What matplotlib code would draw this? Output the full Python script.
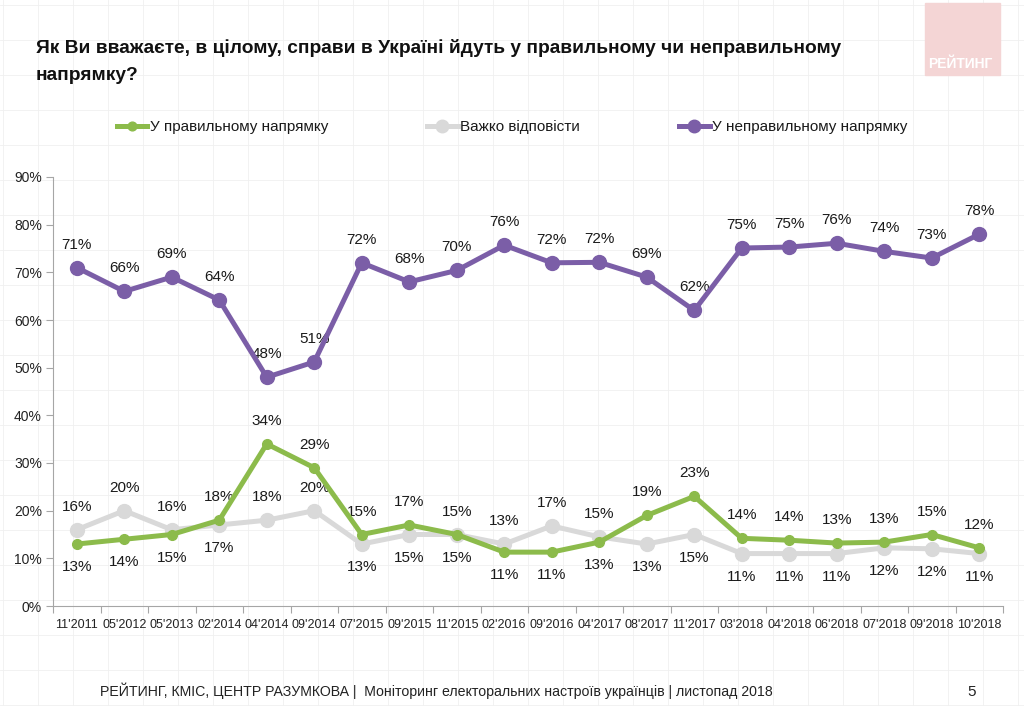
import matplotlib
matplotlib.use("Agg")
import matplotlib.pyplot as plt
import numpy as np

plt.rcParams['font.family'] = ['Liberation Sans', 'DejaVu Sans']

# --- дані ---
periods = ["11'2011", "05'2012", "05'2013", "02'2014", "04'2014", "09'2014", "07'2015",
           "09'2015", "11'2015", "02'2016", "09'2016", "04'2017", "08'2017", "11'2017",
           "03'2018", "04'2018", "06'2018", "07'2018", "09'2018", "10'2018"]
right_dir = [13, 14, 15, 18, 34, 29, 15, 17, 15, 11.3, 11.3, 13.4, 19, 23, 14.2, 13.8, 13.2, 13.4, 15, 12.2]
hard = [16, 20, 16, 17, 18, 20, 13, 15, 15, 13, 16.8, 14.5, 13, 15, 11, 11, 11, 12.2, 12, 11]
wrong_dir = [71, 66, 69, 64.2, 48, 51.2, 72, 68, 70.4, 75.7, 72, 72.1, 69, 62, 75.1, 75.3, 76.1, 74.4, 73, 78]
right_lbl = [13, 14, 15, 18, 34, 29, 15, 17, 15, 11, 11, 13, 19, 23, 14, 14, 13, 13, 15, 12]
hard_lbl = [16, 20, 16, 17, 18, 20, 13, 15, 15, 13, 17, 15, 13, 15, 11, 11, 11, 12, 12, 11]
wrong_lbl = [71, 66, 69, 64, 48, 51, 72, 68, 70, 76, 72, 72, 69, 62, 75, 75, 76, 74, 73, 78]
# де підпис: над точкою (1) чи під (-1)
right_pos = [-1, -1, -1, 1, 1, 1, 1, 1, 1, -1, -1, -1, 1, 1, 1, 1, 1, 1, 1, 1]
hard_pos = [1, 1, 1, -1, 1, 1, -1, -1, -1, 1, 1, 1, -1, -1, -1, -1, -1, -1, -1, -1]

c_green = '#8cbb4b'
c_gray = '#d9d9d9'
c_purple = '#7b5ea7'
txt = '#1a1a1a'

fig = plt.figure(figsize=(10.24, 7.06), dpi=100)

# фон слайду - легка сітка
bg = fig.add_axes([0, 0, 1, 1], zorder=-10)
bg.set_xlim(0, 1024)
bg.set_ylim(706, 0)
bg.axis('off')
for gx in np.arange(3, 1024, 35):
    bg.axvline(gx, color='#f0f0f0', lw=0.6)
for gy in np.arange(5, 706, 35):
    bg.axhline(gy, color='#f0f0f0', lw=0.6)

# логотип
bg.add_patch(plt.Rectangle((925, 3), 75, 72, color='#f4d5d5', zorder=2))
bg.text(960, 64, 'РЕЙТИНГ', color='white', fontsize=10, fontweight='bold',
        ha='center', va='center', zorder=3)

ax = fig.add_axes([53 / 1024, 1 - 606 / 706, 950 / 1024, (606 - 177) / 706])
ax.patch.set_alpha(0)
x = np.arange(len(periods))

ax.plot(x, hard, color=c_gray, lw=3.6, marker='o', ms=10, zorder=3, label='Важко відповісти')
ax.plot(x, right_dir, color=c_green, lw=3.6, marker='o', ms=7, zorder=4, label='У правильному напрямку')
ax.plot(x, wrong_dir, color=c_purple, lw=3.6, marker='o', ms=10, zorder=5, label='У неправильному напрямку')

for i in x:
    ax.annotate(f'{wrong_lbl[i]}%', (i, wrong_dir[i]), xytext=(0, 23), textcoords='offset pixels',
                ha='center', va='center', fontsize=11, color=txt)
    ax.annotate(f'{right_lbl[i]}%', (i, right_dir[i]), xytext=(0, 23 * right_pos[i]),
                textcoords='offset pixels', ha='center', va='center', fontsize=11, color=txt)
    ax.annotate(f'{hard_lbl[i]}%', (i, hard[i]), xytext=(0, 23 * hard_pos[i]),
                textcoords='offset pixels', ha='center', va='center', fontsize=11, color=txt)

ax.set_xlim(-0.5, len(periods) - 0.5)
ax.set_ylim(0, 90)
ax.set_yticks(np.arange(0, 91, 10))
ax.set_yticklabels([f'{v}%' for v in range(0, 91, 10)], fontsize=10, color='#222222')
ax.set_xticks(np.arange(-0.5, len(periods), 1))
ax.set_xticklabels([])
ax.set_xticks(x, minor=True)
ax.set_xticklabels(periods, minor=True, fontsize=9, color='#222222')
ax.tick_params(axis='x', which='major', length=5, color='#a6a6a6', direction='out')
ax.tick_params(axis='x', which='minor', length=0, pad=9)
ax.tick_params(axis='y', length=5, color='#a6a6a6', pad=3)
for s in ['top', 'right']:
    ax.spines[s].set_visible(False)
ax.spines['left'].set_color('#a6a6a6')
ax.spines['bottom'].set_color('#a6a6a6')

# легенда
h, l = ax.get_legend_handles_labels()
order = [1, 0, 2]
leg = fig.legend([h[k] for k in order], [l[k] for k in order], loc='center', bbox_to_anchor=(0.5, 1 - 127 / 706),
                 ncol=3, frameon=False, fontsize=11, handlelength=2.0, handletextpad=0.15, columnspacing=6.5,
                 markerscale=0.9)
for t in leg.get_texts():
    t.set_color(txt)

fig.text(36 / 1024, 1 - 48 / 706, 'Як Ви вважаєте, в цілому, справи в Україні йдуть у правильному чи неправильному',
         fontsize=13.8, fontweight='bold', color='#111111', va='center')
fig.text(36 / 1024, 1 - 76 / 706, 'напрямку?', fontsize=13.8, fontweight='bold', color='#111111', va='center')

fig.text(100 / 1024, 1 - 691 / 706,
         'РЕЙТИНГ, КМІС, ЦЕНТР РАЗУМКОВА |  Моніторинг електоральних настроїв українців | листопад 2018',
         fontsize=10.2, color='#222222', va='center')
fig.text(972 / 1024, 1 - 692 / 706, '5', fontsize=11, color='#222222', va='center', ha='center')

fig.savefig('out.png', dpi=100)
